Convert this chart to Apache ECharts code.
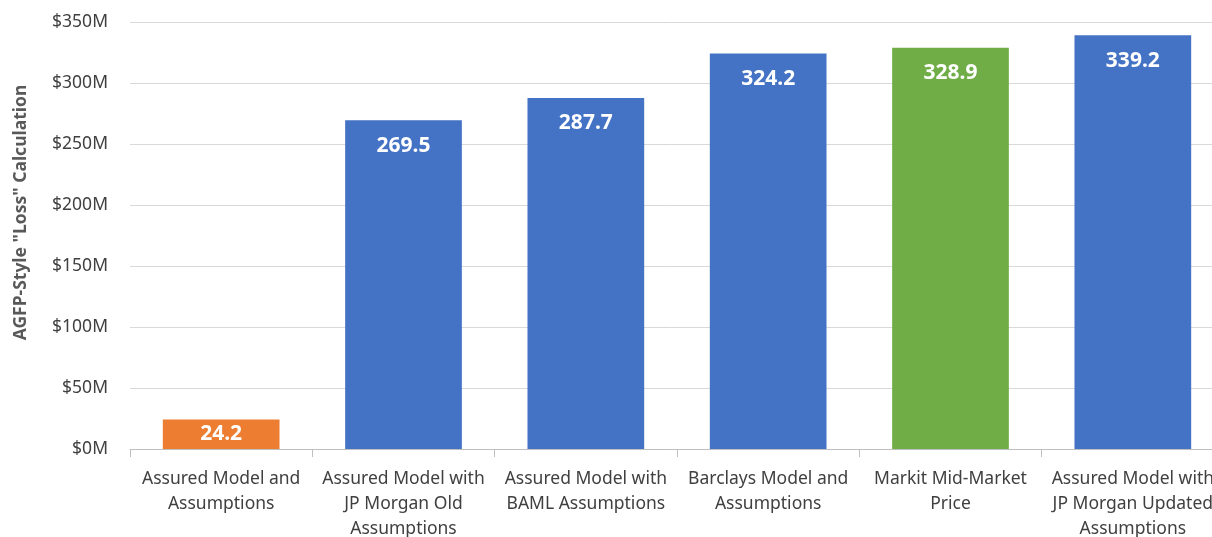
<!DOCTYPE html>
<html>
<head>
<meta charset="utf-8">
<script src="https://cdn.jsdelivr.net/npm/echarts@6/dist/echarts.min.js"></script>
<style>
  html, body { margin: 0; padding: 0; background: #fff; }
  #main { width: 1212px; height: 537px; }
</style>
</head>
<body>
<div id="main"></div>
<script>
// categories, values (in $M) and bar colours
var categories = [
  'Assured Model and\nAssumptions',
  'Assured Model with\nJP Morgan Old\nAssumptions',
  'Assured Model with\nBAML Assumptions',
  'Barclays Model and\nAssumptions',
  'Markit Mid-Market\nPrice',
  'Assured Model with\nJP Morgan Updated\nAssumptions'
];
var values = [24.2, 269.5, 287.7, 324.2, 328.9, 339.2];
var barColors = ['#ED7D31', '#4472C4', '#4472C4', '#4472C4', '#70AD47', '#4472C4'];

var font = '"Noto Sans", "Open Sans", sans-serif';

var chart = echarts.init(document.getElementById('main'), null, { renderer: 'canvas' });

var option = {
  animation: false,
  // plot runs past the right edge of the picture (last label is cut off)
  grid: { left: 130, width: 1094, top: 22, bottom: 88, containLabel: false, outerBoundsMode: 'none' },
  xAxis: {
    type: 'category',
    data: categories,
    axisLine: { lineStyle: { color: '#bfbfbf', width: 1 } },
    axisTick: { show: true, length: 8, lineStyle: { color: '#bfbfbf' } },
    axisLabel: {
      interval: 0,
      margin: 18,
      color: '#404040',
      fontSize: 17.5,
      lineHeight: 25,
      fontFamily: font
    }
  },
  yAxis: {
    type: 'value',
    min: 0,
    max: 350,
    interval: 50,
    name: 'AGFP-Style "Loss" Calculation',
    nameLocation: 'middle',
    nameGap: 100,
    nameRotate: 90,
    nameTextStyle: {
      color: '#595959', fontSize: 17.5, fontWeight: 'bold', fontFamily: font,
      padding: [0, 0, 0, 46]
    },
    axisLine: { show: false },
    axisTick: { show: false },
    axisLabel: {
      margin: 22,
      color: '#404040',
      fontSize: 17.5,
      fontFamily: font,
      formatter: function (v) { return '$' + v + 'M'; }
    },
    splitLine: { lineStyle: { color: '#d9d9d9', width: 1 } }
  },
  series: [{
    type: 'bar',
    barWidth: '64%',
    data: values.map(function (v, i) {
      var item = { value: v, itemStyle: { color: barColors[i] } };
      // the short bar keeps its label squeezed inside
      if (v < 50) item.label = { distance: 4 };
      return item;
    }),
    label: {
      show: true,
      position: 'insideTop',
      distance: 15,
      color: '#ffffff',
      fontSize: 21,
      fontWeight: 'bold',
      fontFamily: font,
      formatter: function (p) { return p.value.toFixed(1); }
    }
  }]
};

chart.setOption(option);
</script>
</body>
</html>
